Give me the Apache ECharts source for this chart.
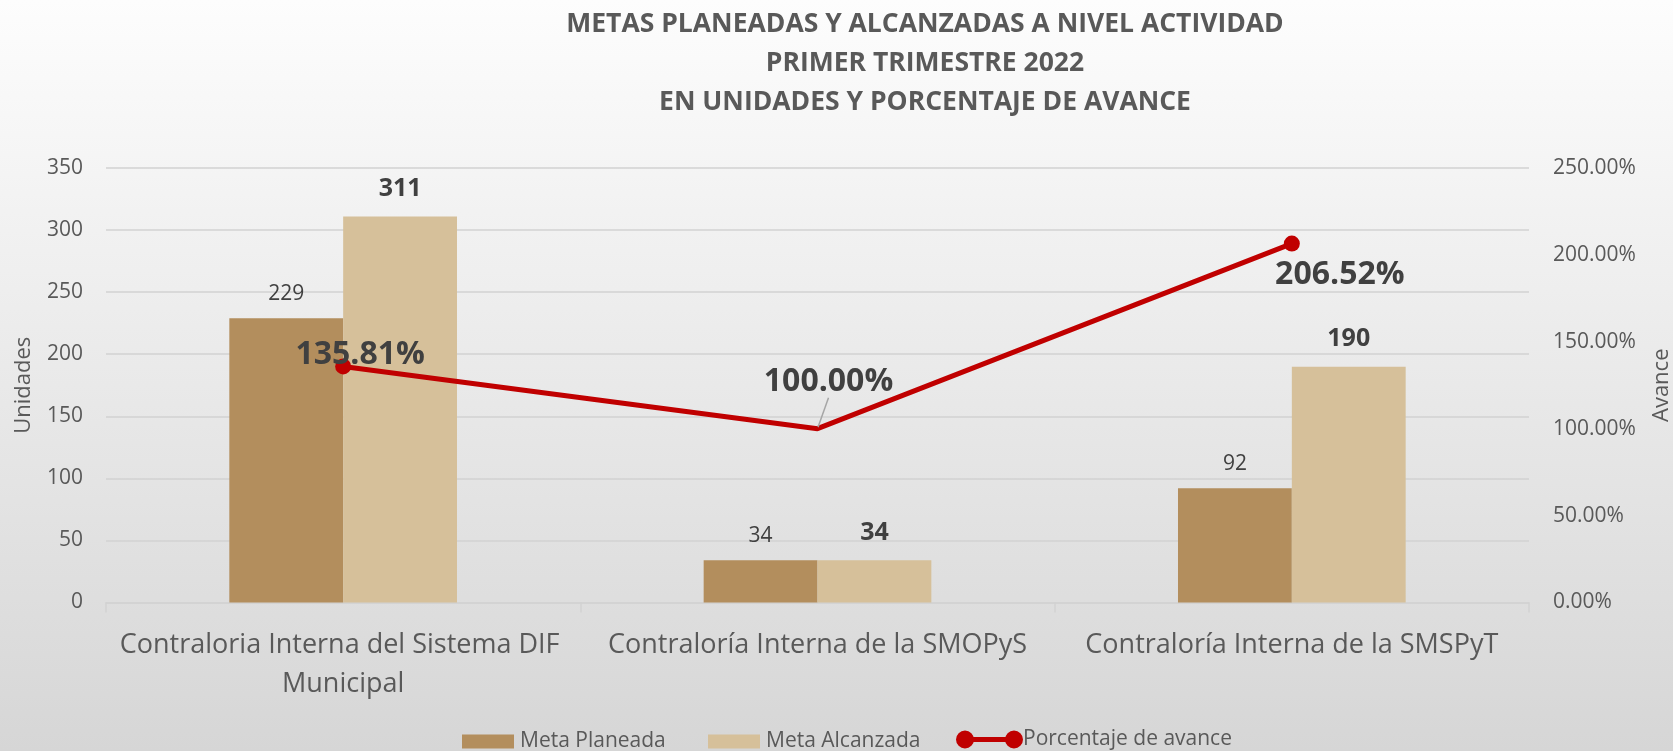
<!DOCTYPE html>
<html>
<head>
<meta charset="utf-8">
<script src="https://cdn.jsdelivr.net/npm/echarts@6/dist/echarts.min.js"></script>
<style>
  html, body { margin: 0; padding: 0; }
  #chart { width: 1673px; height: 751px; }
</style>
</head>
<body>
<div id="chart"></div>
<script>
// datos
var categorias = ['Contraloria Interna del Sistema DIF Municipal', 'Contraloría Interna de la SMOPyS', 'Contraloría Interna de la SMSPyT'];
var metaPlaneada = [229, 34, 92];
var metaAlcanzada = [311, 34, 190];
var porcentajeAvance = [135.81, 100.00, 206.52];

var unidadesTicks = { min: 0, max: 350, interval: 50 };
var avanceTicks = { min: 0, max: 250, interval: 50 };

var FONT = 'Open Sans';
var GRIS = '#595959';
var OSCURO = '#404040';

// desplazamiento de etiquetas del porcentaje (como en el original)
var etiquetasAvance = [
  { dx: 17, dy: -12, linea: false },
  { dx: 11, dy: -47, linea: true },
  { dx: 48, dy: 31, linea: false }
];

var lineaIcono = 'path://M0,9 A9,9 0 1,1 18,9 A9,9 0 1,1 0,9 Z M49,9 A9,9 0 1,1 67,9 A9,9 0 1,1 49,9 Z M9,6.5 L58,6.5 L58,11.5 L9,11.5 Z';

var myChart = echarts.init(document.getElementById('chart'));

var option = {
  backgroundColor: {
    type: 'linear', x: 0, y: 0, x2: 0, y2: 1,
    colorStops: [{ offset: 0, color: '#FDFDFD' }, { offset: 1, color: '#D6D6D6' }]
  },
  textStyle: { fontFamily: FONT },
  title: {
    text: 'METAS PLANEADAS Y ALCANZADAS A NIVEL ACTIVIDAD\nPRIMER TRIMESTRE 2022\nEN UNIDADES Y PORCENTAJE DE AVANCE',
    left: 920,
    top: 0,
    textAlign: 'center',
    textStyle: { fontFamily: FONT, fontSize: 26.5, fontWeight: 'bold', color: GRIS, lineHeight: 39 }
  },
  legend: [{
    data: ['Meta Planeada'], left: 462, top: 731, padding: 0,
    itemWidth: 52, itemHeight: 14, icon: 'rect',
    textStyle: { fontFamily: FONT, fontSize: 21, color: GRIS, padding: [0, 0, 0, 1] }
  }, {
    data: ['Meta Alcanzada'], left: 708, top: 731, padding: 0,
    itemWidth: 52, itemHeight: 14, icon: 'rect',
    textStyle: { fontFamily: FONT, fontSize: 21, color: GRIS, padding: [0, 0, 0, 1] }
  }, {
    data: [{ name: 'Porcentaje de avance', icon: lineaIcono }], left: 956, top: 729, padding: 0,
    itemWidth: 67, itemHeight: 18, itemGap: 0,
    textStyle: { fontFamily: FONT, fontSize: 21, color: GRIS, padding: [0, 0, 0, -5] }
  }],
  grid: { left: 106, right: 144, top: 168, bottom: 148.5, outerBoundsMode: 'none', containLabel: false },
  xAxis: {
    type: 'category',
    data: categorias,
    axisLine: { lineStyle: { color: '#D2D2D2', width: 1.5 } },
    axisTick: { show: true, length: 10, lineStyle: { color: '#D2D2D2', width: 1.5 } },
    axisLabel: {
      interval: 0, margin: 23, fontFamily: FONT, fontSize: 27, color: GRIS,
      lineHeight: 39, width: 462, overflow: 'break'
    }
  },
  yAxis: [{
    type: 'value',
    name: 'Unidades',
    nameLocation: 'middle',
    nameGap: 71,
    nameMoveOverlap: false,
    nameTextStyle: { fontFamily: FONT, fontSize: 22, color: GRIS },
    min: unidadesTicks.min, max: unidadesTicks.max, interval: unidadesTicks.interval,
    axisLine: { show: false },
    axisTick: { show: false },
    axisLabel: { margin: 23, fontFamily: FONT, fontSize: 21, color: GRIS },
    splitLine: { lineStyle: { color: '#D2D2D2', width: 1.5 } }
  }, {
    type: 'value',
    name: 'Avance',
    nameLocation: 'middle',
    nameGap: 122,
    nameMoveOverlap: false,
    nameTextStyle: { fontFamily: FONT, fontSize: 22, color: GRIS },
    min: avanceTicks.min, max: avanceTicks.max, interval: avanceTicks.interval,
    axisLine: { show: false },
    axisTick: { show: false },
    axisLabel: {
      margin: 24, fontFamily: FONT, fontSize: 21, color: GRIS,
      formatter: function (v) { return v.toFixed(2) + '%'; }
    },
    splitLine: { show: false }
  }],
  series: [{
    name: 'Meta Planeada',
    type: 'bar',
    barGap: '0%',
    barCategoryGap: '52%',
    itemStyle: { color: '#B38E5D' },
    label: { show: true, position: 'top', distance: 14, fontFamily: FONT, fontSize: 21, color: OSCURO },
    data: metaPlaneada
  }, {
    name: 'Meta Alcanzada',
    type: 'bar',
    barGap: '0%',
    barCategoryGap: '52%',
    itemStyle: { color: '#D6C09A' },
    label: { show: true, position: 'top', distance: 15, fontFamily: FONT, fontSize: 25, fontWeight: 'bold', color: OSCURO },
    data: metaAlcanzada
  }, {
    name: 'Porcentaje de avance',
    type: 'line',
    yAxisIndex: 1,
    symbol: 'circle',
    symbolSize: 16,
    lineStyle: { color: '#C00000', width: 5 },
    itemStyle: { color: '#C00000' },
    label: {
      show: true, position: 'inside', fontFamily: FONT, fontSize: 32, fontWeight: 'bold', color: OSCURO,
      formatter: function (p) { return p.value.toFixed(2) + '%'; }
    },
    labelLine: { show: false },
    labelLayout: function (p) {
      var e = etiquetasAvance[p.dataIndex];
      return { dx: e.dx, dy: e.dy };
    },
    data: porcentajeAvance.map(function (v, i) {
      var e = etiquetasAvance[i];
      return {
        value: v,
        symbolSize: e.linea ? 3 : 16,
        labelLine: { show: e.linea, lineStyle: { color: '#A6A6A6', width: 1.5 } }
      };
    }),
    z: 3
  }]
};

myChart.setOption(option);
</script>
</body>
</html>
